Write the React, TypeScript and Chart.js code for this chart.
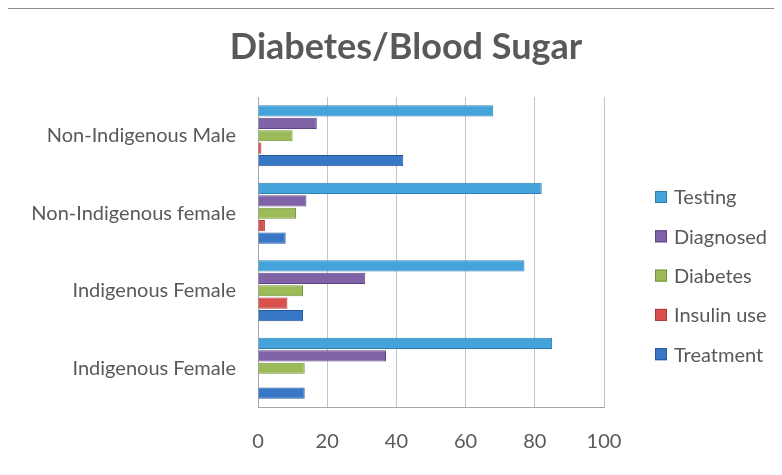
import React, { useEffect, useRef } from "react";
import { Chart, registerables } from "chart.js";

Chart.register(...registerables);

const titleText = "Diabetes/Blood Sugar";
const categories = [
  "Non-Indigenous Male",
  "Non-Indigenous female",
  "Indigenous Female",
  "Indigenous Female",
];
const seriesNames = ["Testing", "Diagnosed", "Diabetes", "Insulin use", "Treatment"];
const testing = [68, 82, 77, 85];
const diagnosed = [17, 14, 31, 37];
const diabetes = [10, 11, 13, 13.5];
const insulinUse = [1, 2, 8.5, 0];
const treatment = [42, 8, 13, 13.5];
const xTicks = [0, 20, 40, 60, 80, 100];

const fills = ["#44a3da", "#8062a6", "#9bbb59", "#d9504d", "#3876c6"];
const edges = ["#2f7fb0", "#5f4585", "#76933c", "#a83b38", "#24579a"];

const FONT = "Lato, 'Open Sans', sans-serif";
const GRAY = "#595959";

const titleAndLegendPlugin = {
  id: "titleAndLegend",
  afterDraw(chart: any) {
    const { ctx, chartArea } = chart;
    ctx.save();
    // title
    ctx.font = `bold 36px ${FONT}`;
    ctx.fillStyle = GRAY;
    ctx.textAlign = "center";
    ctx.textBaseline = "alphabetic";
    ctx.fillText(titleText, 399, 50);
    // legend
    ctx.font = `20px ${FONT}`;
    ctx.textBaseline = "middle";
    ctx.textAlign = "left";
    chart.data.datasets.forEach((ds: any, i: number) => {
      const x = chartArea.right + 51;
      const y = chartArea.top + 100 + i * 39.3;
      ctx.fillStyle = ds.backgroundColor;
      ctx.fillRect(x, y - 6, 12, 12);
      ctx.strokeStyle = ds.borderColor;
      ctx.lineWidth = 1;
      ctx.strokeRect(x + 0.5, y - 5.5, 11, 11);
      ctx.fillStyle = GRAY;
      ctx.fillText(ds.label, x + 19, y + 1);
    });
    ctx.restore();
  },
};

export default function App() {
  const ref = useRef<HTMLCanvasElement>(null);
  useEffect(() => {
    document.body.style.overflow = "hidden";
    const values = [testing, diagnosed, diabetes, insulinUse, treatment];
    const chart = new Chart(ref.current!, {
      type: "bar",
      data: {
        labels: categories,
        datasets: seriesNames.map((name, i) => ({
          label: name,
          data: values[i],
          backgroundColor: fills[i],
          borderColor: edges[i],
          borderWidth: 1,
          categoryPercentage: 0.8,
          barPercentage: 0.9,
        })),
      },
      options: {
        indexAxis: "y",
        animation: false,
        responsive: false,
        maintainAspectRatio: false,
        layout: { padding: { left: 0, right: 178, top: 88, bottom: 0 } },
        plugins: {
          legend: { display: false },
          tooltip: { enabled: false },
          title: { display: false },
        },
        scales: {
          x: {
            min: 0,
            max: 100,
            afterBuildTicks: (scale: any) => {
              scale.ticks = xTicks.map((v) => ({ value: v }));
            },
            afterFit: (scale: any) => {
              scale.height = 68;
            },
            grid: { color: "#c4c4c4", drawTicks: false, lineWidth: 1 },
            border: { display: true, color: "#a6a6a6" },
            ticks: {
              color: GRAY,
              font: { family: FONT, size: 20 },
              padding: 23,
            },
          },
          y: {
            afterFit: (scale: any) => {
              scale.width = 251;
            },
            grid: { display: false, drawTicks: false },
            border: { display: true, color: "#a6a6a6" },
            ticks: {
              color: GRAY,
              font: { family: FONT, size: 20 },
              padding: 22,
            },
          },
        },
      },
      plugins: [titleAndLegendPlugin],
    });
    return () => chart.destroy();
  }, []);
  return (
    <div
      style={{
        marginLeft: -3,
        width: 777,
        height: 467,
        borderLeft: "2px solid #8c8c8c",
        borderTop: "1px solid #8c8c8c",
        boxSizing: "border-box",
        background: "#fff",
      }}
    >
      <canvas ref={ref} width={775} height={466} style={{ display: "block" }} />
    </div>
  );
}
